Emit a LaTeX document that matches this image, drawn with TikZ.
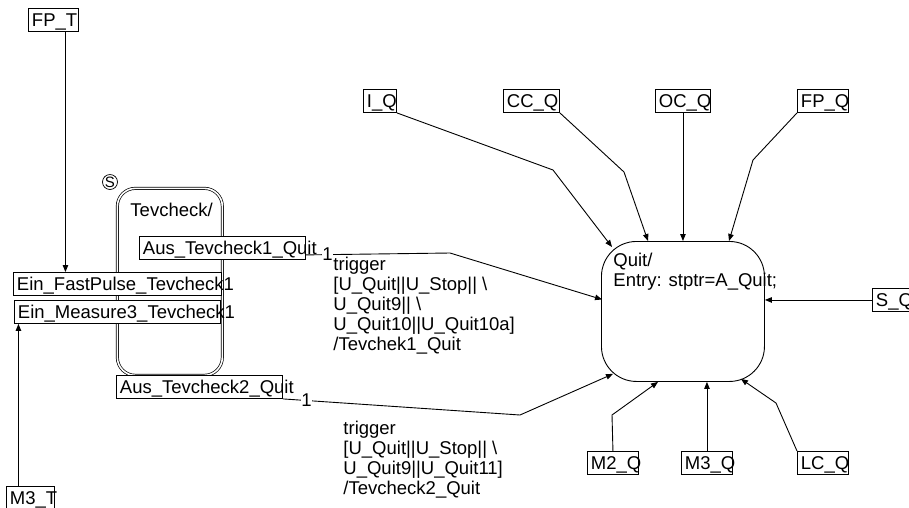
\documentclass[tikz,border=0pt]{standalone}
\usepackage{fontspec}
\setmainfont{Liberation Sans}
\usetikzlibrary{arrows.meta,calc}
\newcommand{\portlbl}[2]{\makebox[#1pt][l]{\hspace{3.5pt}#2}}

\begin{document}
\begin{tikzpicture}[x=1pt, y=-1pt, line width=0.9pt,
  every node/.style={font=\fontsize{18.5}{20}\selectfont},
  port/.style={draw, fill=white, anchor=north west, inner xsep=0pt, inner ysep=0pt, minimum height=23, text height=17, text depth=4},
  statebox/.style={draw, anchor=north west, inner sep=0pt},
  txt/.style={anchor=north west, inner sep=0pt, align=left},
  one/.style={fill=white, inner sep=0.5pt},
  arrow/.style={-{Triangle[length=7pt,width=5.5pt]}},
]
\useasboundingbox (0,0) rectangle (909,507);

% === STATE TEVCHECK ===
\node[statebox, double, line width=0.7pt, double distance=1.6pt, rounded corners=18, minimum width=105, minimum height=187] (tev) at (117,188) {};
\node[txt] (tevtxt) at (130,203) {Tevcheck/};
\node[circle, draw, line width=0.7pt, inner sep=0pt, minimum size=15, font=\fontsize{15}{15}\selectfont] (hist) at (110,182) {S};

\node[port] (aus1) at (139,236) {\portlbl{166}{Aus\_Tevcheck1\_Quit}};
\node[port] (ein1) at (13,272) {\portlbl{208}{Ein\_FastPulse\_Tevcheck1}};
\node[port] (ein2) at (14,300) {\portlbl{206}{Ein\_Measure3\_Tevcheck1}};
\node[port] (aus2) at (116,375) {\portlbl{166}{Aus\_Tevcheck2\_Quit}};

\node[port] (fpt) at (28,8) {\portlbl{50}{FP\_T}};
\node[port] (mthree) at (6,486) {\portlbl{48}{M3\_T}};

% === STATE QUIT ===
\node[statebox, rounded corners=35, minimum width=163, minimum height=140] (quit) at (601,241) {};
\node[txt] (quittxt) at (613,253) {Quit/\\Entry: stptr=A\_Quit;};

\node[port] (iq) at (363,89) {\portlbl{33}{I\_Q}};
\node[port] (ccq) at (503,89) {\portlbl{56}{CC\_Q}};
\node[port] (ocq) at (655,89) {\portlbl{55}{OC\_Q}};
\node[port] (fpq) at (797,89) {\portlbl{51}{FP\_Q}};
\node[port] (sq) at (872,288) {\portlbl{52}{S\_Q}};
\node[port] (mtwoq) at (587,451) {\portlbl{51}{M2\_Q}};
\node[port] (mthreeq) at (681,451) {\portlbl{51}{M3\_Q}};
\node[port] (lcq) at (797,451) {\portlbl{51}{LC\_Q}};

% === CONNECTORS ===
\draw[arrow] ([xshift=12]fpt.south) -- ([xshift=12]fpt.south |- ein1.north);
\draw[arrow] ([xshift=-12]mthree.north) -- ([xshift=-12]mthree.north |- ein2.south);

\draw[arrow] ($(aus1.south east)+(0,-5)$) -- node[one, pos=0.15] (n1) {1} (450,253) -- ($(quit.west)+(1,-12)$);
\draw[arrow] (aus2.south east) -- node[one, pos=0.1] (n2) {1} (520,415) -- ($(quit.south west)+(12,-8)$);

\node[txt] (trig1) at (333,257) {trigger\\{}[U\_Quit||U\_Stop|| \textbackslash\\U\_Quit9|| \textbackslash\\U\_Quit10||U\_Quit10a]\\/Tevchek1\_Quit};
\node[txt] (trig2) at (343,421) {trigger\\{}[U\_Quit||U\_Stop|| \textbackslash\\U\_Quit9||U\_Quit11]\\/Tevcheck2\_Quit};

\draw[arrow] (iq.south east) -- (553,170) -- ($(quit.north west)+(11,6)$);
\draw[arrow] (ccq.south east) -- (624,172) -- ($(quit.north west)+(47,0)$);
\draw[arrow] (ocq.south) -- (ocq.south |- quit.north);
\draw[arrow] (fpq.south west) -- (753,160) -- ($(quit.north west)+(128,0)$);
\draw[arrow] (sq.west) -- (sq.west -| quit.east);
\draw[arrow] (mtwoq.north) -- (612,415) -- ($(quit.south west)+(57,0)$);
\draw[arrow] (mthreeq.north) -- (mthreeq.north |- quit.south);
\draw[arrow] (lcq.north west) -- (776,403) -- ($(quit.south east)+(-24,-3)$);
\end{tikzpicture}
\end{document}
